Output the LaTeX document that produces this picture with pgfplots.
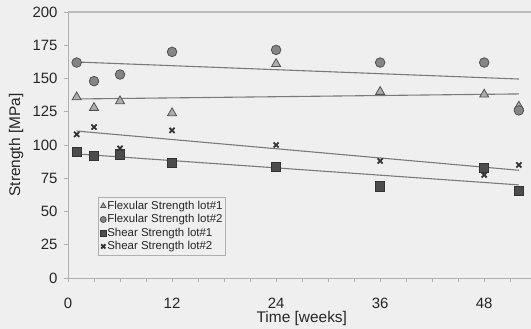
\documentclass[border=0pt]{standalone}
\usepackage{pgfplots}
\pgfplotsset{compat=1.18}
\usepackage{fontspec}
\setmainfont{Liberation Sans}
\definecolor{bgg}{HTML}{EFEFEF}
\definecolor{axg}{HTML}{B0B0B0}
\definecolor{trend}{HTML}{7A7A7A}
\definecolor{txt}{HTML}{262626}
\begin{document}
\begin{tikzpicture}
\useasboundingbox (0,0) rectangle (531bp,329bp);
\fill[bgg] (0,0) rectangle (531bp,329bp);
\begin{axis}[
  at={(68bp,51bp)}, anchor=south west,
  scale only axis, width=463bp, height=266bp,
  xmin=0, xmax=53.4, ymin=0, ymax=200,
  axis lines=left, axis line style={-, draw=axg, line width=0.9bp},
  xtick={0,12,24,36,48}, minor xtick={3,6,9,15,18,21,27,30,33,39,42,45,51},
  ytick={0,25,...,200},
  extra y ticks={200}, extra y tick labels={}, extra y tick style={grid=major, major grid style={draw=axg!85, line width=1.6bp}},
  tick align=outside, major tick length=4bp, minor tick length=4bp,
  tick style={draw=axg, line width=0.7bp},
  /pgf/number format/assume math mode=true,
  ticklabel style={font=\fontsize{15}{15}\selectfont, text=txt},
  xticklabel style={yshift=-13bp},
  yticklabel style={xshift=-3bp},
  xlabel={Time [weeks]}, ylabel={Strength [MPa]},
  label style={font=\fontsize{15.5}{16}\selectfont, text=txt},
  xlabel style={at={(axis description cs:0.505,-0.154)}, anchor=center},
  ylabel style={at={(axis description cs:-0.112,0.5)}, anchor=center},
  clip=false,
  legend style={at={(axis description cs:0.065,0.305)}, anchor=north west,
    draw=axg, fill=bgg, font=\fontsize{11.5}{12.5}\selectfont, text=txt,
    inner xsep=2bp, inner ysep=3bp, row sep=1.7bp,
    nodes={inner xsep=1bp, inner ysep=1bp}},
  legend cell align=left,
  legend image code/.code={\draw[#1, mark size=3bp] plot coordinates {(0bp,0bp)};},
]
% Flexular lot#1
\addplot[only marks, mark=triangle*, mark size=5.2bp, mark options={fill=black!32, draw=black!68, line width=0.8bp}]
  coordinates {(1,136) (3,128) (6,133) (12,124) (24,161) (36,140) (48,138) (52,129)};
\addlegendentry{Flexular Strength lot\#1}
% Flexular lot#2
\addplot[only marks, mark=*, mark size=4.8bp, mark options={fill=black!48, draw=black!68, line width=0.8bp}]
  coordinates {(1,162) (3,148) (6,153) (12,170) (24,171.5) (36,162) (48,162) (52,126)};
\addlegendentry{Flexular Strength lot\#2}
% Shear lot#1
\addplot[only marks, mark=square*, mark size=4.6bp, mark options={fill=black!70, draw=black!80, line width=0.6bp}]
  coordinates {(1,95) (3,92) (6,93) (12,86.5) (24,83.5) (36,69) (48,82.7) (52,65.4)};
\addlegendentry{Shear Strength lot\#1}
% Shear lot#2
\addplot[only marks, mark=x, mark size=3.6bp, mark options={draw=black!80, line width=1.8bp}]
  coordinates {(1,108) (3,113.5) (6,97.5) (12,111) (24,100) (36,88) (48,77.5) (52,85)};
\addlegendentry{Shear Strength lot\#2}
% trend lines
\addplot[trend, line width=1.1bp, forget plot] coordinates {(1,162.4) (52,149.6)};
\addplot[trend, line width=1.1bp, forget plot] coordinates {(1,134.6) (52,138.4)};
\addplot[trend, line width=1.1bp, forget plot] coordinates {(1,110.5) (52,81)};
\addplot[trend, line width=1.1bp, forget plot] coordinates {(1,93.3) (52,70)};
\end{axis}
\end{tikzpicture}
\end{document}
